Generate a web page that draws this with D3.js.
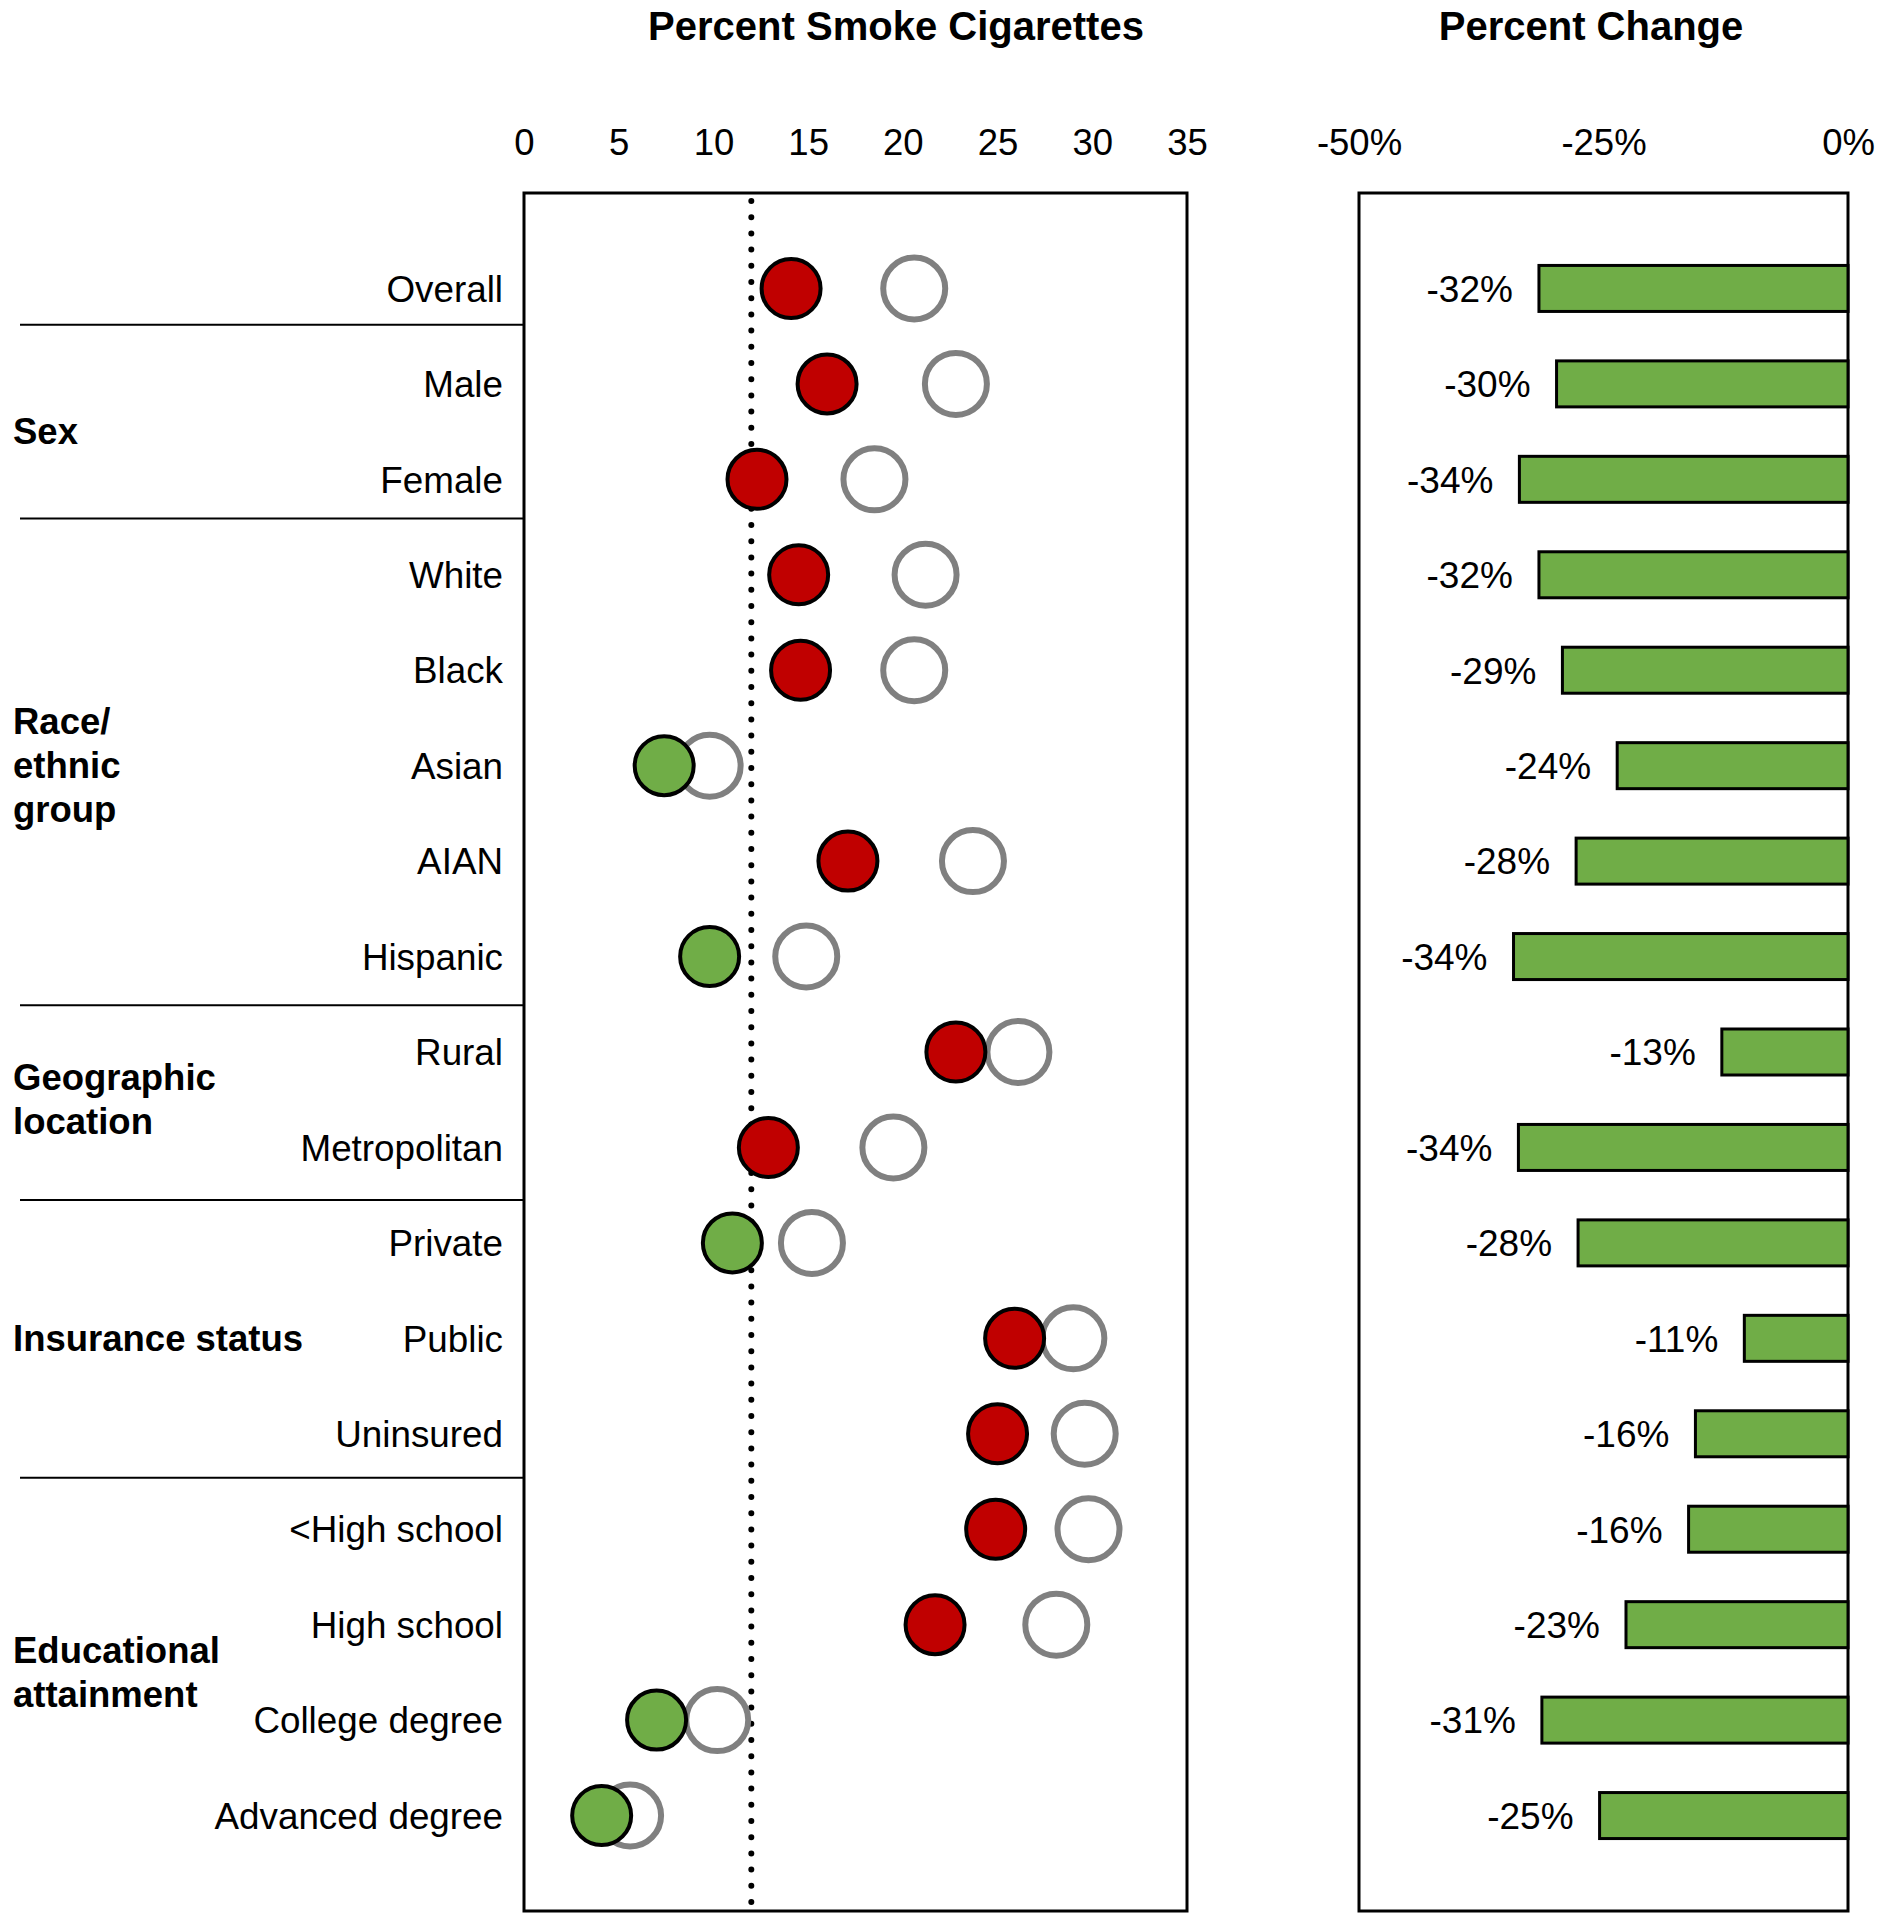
<!DOCTYPE html>
<html>
<head>
<meta charset="utf-8">
<script src="https://cdn.jsdelivr.net/npm/d3@7"></script>
<style>
  body { margin: 0; background: #fff; }
  svg text { font-family: "Liberation Sans", Arial, sans-serif; fill: #000; }
</style>
</head>
<body>
<div id="chart"></div>
<script>
// row labels, top to bottom
const categories = ["Overall", "Male", "Female", "White", "Black", "Asian", "AIAN", "Hispanic",
  "Rural", "Metropolitan", "Private", "Public", "Uninsured", "<High school", "High school",
  "College degree", "Advanced degree"];

// percent smoking, recent period (filled dots) and earlier period (grey rings)
const recent = [14.1, 16.0, 12.3, 14.5, 14.6, 7.4, 17.1, 9.8, 22.8, 12.9, 11.0, 25.9, 25.0, 24.9, 21.7, 7.0, 4.1];
const earlier = [20.6, 22.8, 18.5, 21.2, 20.6, 9.8, 23.7, 14.9, 26.1, 19.5, 15.2, 29.0, 29.6, 29.8, 28.1, 10.2, 5.6];

// percent change between the two periods
const pctChange = [-31.6, -29.8, -33.6, -31.6, -29.2, -23.6, -27.8, -34.2, -12.9, -33.7, -27.6, -10.6, -15.6, -16.3, -22.7, -31.3, -25.4];

const target = 12; // dotted reference line

const leftTicks = [0, 5, 10, 15, 20, 25, 30, 35];
const rightTicks = [-50, -25, 0];

// group headings: text lines and the rows they span
const groups = [
  { lines: ["Sex"], first: 1, last: 2 },
  { lines: ["Race/", "ethnic", "group"], first: 3, last: 7 },
  { lines: ["Geographic", "location"], first: 8, last: 9 },
  { lines: ["Insurance status"], first: 10, last: 12 },
  { lines: ["Educational", "attainment"], first: 13, last: 16 }
];
// divider lines sit between rows (fractional row index)
const dividers = [0.38, 2.41, 7.51, 9.55, 12.46];

const width = 1879, height = 1920;
const plotTop = 193, plotBottom = 1911;

const svg = d3.select("#chart").append("svg")
  .attr("width", width)
  .attr("height", height);

const y = d3.scalePoint().domain(categories).range([plotTop, plotBottom]).padding(1);
const rowY = d3.scaleLinear().domain([0, categories.length - 1])
  .range([y(categories[0]), y(categories[categories.length - 1])]);
const x = d3.scaleLinear().domain([0, 35]).range([524, 1187]);
const xc = d3.scaleLinear().domain([-50, 0]).range([1359, 1848]);

const green = "#70ad47", red = "#c00000", grey = "#808080";

// titles
svg.append("text").attr("x", 896).attr("y", 40)
  .attr("text-anchor", "middle").attr("font-size", 40).attr("font-weight", "bold")
  .text("Percent Smoke Cigarettes");
svg.append("text").attr("x", 1591).attr("y", 40)
  .attr("text-anchor", "middle").attr("font-size", 40).attr("font-weight", "bold")
  .text("Percent Change");

// axes (labels only)
const axL = svg.append("g").attr("transform", `translate(0,${plotTop})`)
  .call(d3.axisTop(x).tickValues(leftTicks).tickSize(0).tickPadding(38));
const axR = svg.append("g").attr("transform", `translate(0,${plotTop})`)
  .call(d3.axisTop(xc).tickValues(rightTicks).tickSize(0).tickPadding(38)
    .tickFormat(d => d + "%"));
[axL, axR].forEach(g => {
  g.select(".domain").remove();
  g.selectAll("text").attr("font-size", 36.5)
    .style("font-family", "'Liberation Sans', Arial, sans-serif").attr("fill", "#000");
});

// divider lines in the label area
svg.selectAll(".divider").data(dividers).enter().append("line")
  .attr("x1", 20).attr("x2", x(0))
  .attr("y1", d => rowY(d)).attr("y2", d => rowY(d))
  .attr("stroke", "#000").attr("stroke-width", 2);

// row labels
svg.selectAll(".rowlab").data(categories).enter().append("text")
  .attr("x", 503).attr("y", d => y(d)).attr("dy", "0.36em")
  .attr("text-anchor", "end").attr("font-size", 36.8)
  .text(d => d);

// group headings
groups.forEach(g => {
  const mid = (y(categories[g.first]) + y(categories[g.last])) / 2;
  const lh = 44;
  const t = svg.append("text").attr("x", 13).attr("font-size", 36.5).attr("font-weight", "bold");
  g.lines.forEach((l, i) => {
    t.append("tspan").attr("x", 13)
      .attr("y", mid + (i - (g.lines.length - 1) / 2) * lh + 12.5)
      .text(l);
  });
});

// frames
svg.append("rect").attr("x", x(0)).attr("y", plotTop)
  .attr("width", x(35) - x(0)).attr("height", plotBottom - plotTop)
  .attr("fill", "none").attr("stroke", "#000").attr("stroke-width", 3);
svg.append("rect").attr("x", xc(-50)).attr("y", plotTop)
  .attr("width", xc(0) - xc(-50)).attr("height", plotBottom - plotTop)
  .attr("fill", "none").attr("stroke", "#000").attr("stroke-width", 3);

// target line
svg.append("line")
  .attr("x1", x(target)).attr("x2", x(target))
  .attr("y1", plotTop + 8).attr("y2", plotBottom - 4)
  .attr("stroke", "#000").attr("stroke-width", 6)
  .attr("stroke-linecap", "round").attr("stroke-dasharray", "0 16.2");

// earlier period rings
svg.selectAll(".ring").data(earlier).enter().append("circle")
  .attr("cx", d => x(d)).attr("cy", (d, i) => y(categories[i]))
  .attr("r", 31).attr("fill", "#fff").attr("stroke", grey).attr("stroke-width", 6);

// recent period dots
svg.selectAll(".dot").data(recent).enter().append("circle")
  .attr("cx", d => x(d)).attr("cy", (d, i) => y(categories[i]))
  .attr("r", 29.5).attr("fill", d => d < target ? green : red)
  .attr("stroke", "#000").attr("stroke-width", 4);

// percent change bars
const barH = 46;
svg.selectAll(".bar").data(pctChange).enter().append("rect")
  .attr("x", d => xc(d)).attr("width", d => xc(0) - xc(d))
  .attr("y", (d, i) => y(categories[i]) - barH / 2).attr("height", barH)
  .attr("fill", green).attr("stroke", "#000").attr("stroke-width", 3);

svg.selectAll(".barlab").data(pctChange).enter().append("text")
  .attr("x", d => xc(d) - 26).attr("y", (d, i) => y(categories[i])).attr("dy", "0.36em")
  .attr("text-anchor", "end").attr("font-size", 37)
  .text(d => Math.round(d) + "%");
</script>
</body>
</html>
